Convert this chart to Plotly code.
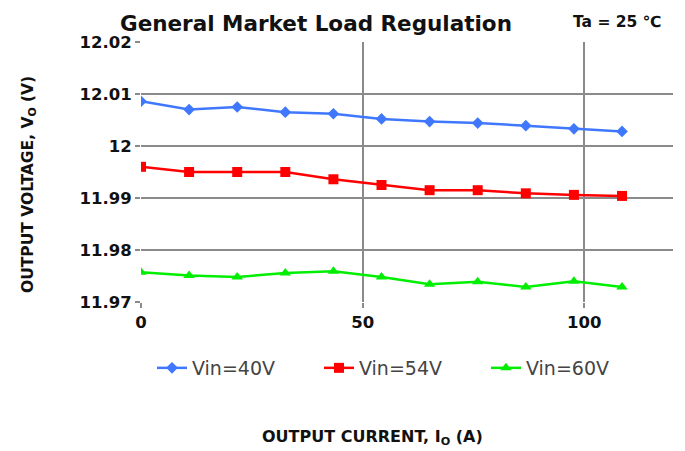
import plotly.graph_objects as go

current = [0, 10.85, 21.7, 32.55, 43.4, 54.25, 65.1, 75.95, 86.8, 97.65, 108.5]
vin40 = [12.0086, 12.0070, 12.0075, 12.0065, 12.0062, 12.0052, 12.0047, 12.0044, 12.0039, 12.0033, 12.0028]
vin54 = [11.9960, 11.9950, 11.9950, 11.9950, 11.9936, 11.9925, 11.9915, 11.9915, 11.9909, 11.9906, 11.9904]
vin60 = [11.9757, 11.9751, 11.9748, 11.9756, 11.9759, 11.9748, 11.9734, 11.9739, 11.9729, 11.9740, 11.9729]
y_ticks = [11.97, 11.98, 11.99, 12.0, 12.01, 12.02]
y_labels = ["11.97", "11.98", "11.99", "12", "12.01", "12.02"]
x_ticks = [0, 50, 100]

BOLD = "DejaVu Sans"
LEG = "DejaVu Sans"

fig = go.Figure()
fig.add_trace(go.Scatter(x=current, y=vin40, name="Vin=40V", mode="lines+markers",
                         line=dict(color="#3f78ff", width=2.5),
                         marker=dict(symbol="diamond", size=9, color="#3f78ff")))
fig.add_trace(go.Scatter(x=current, y=vin54, name="Vin=54V", mode="lines+markers",
                         line=dict(color="#ff0000", width=2.5),
                         marker=dict(symbol="square", size=10, color="#ff0000")))
fig.add_trace(go.Scatter(x=current, y=vin60, name="Vin=60V", mode="lines+markers",
                         line=dict(color="#00ee00", width=2.5),
                         marker=dict(symbol="triangle-up", size=10, color="#00ee00")))

axis_common = dict(showgrid=True, gridcolor="#8a8a8a", gridwidth=2,
                   zeroline=False, showline=False, ticks="outside",
                   ticklen=5, tickwidth=2, tickcolor="#8a8a8a",
                   tickfont=dict(family=BOLD, size=16.5, color="#111111", weight="bold"))

fig.update_xaxes(range=[0, 120], tickvals=x_ticks, **axis_common)
fig.update_yaxes(range=[11.97, 12.02], tickvals=y_ticks, ticktext=y_labels, **axis_common)

# page has an 8px body margin; plot area in page pixels:
pl, pr, pt, pb = 141, 673, 42, 302
W, H = 685 - 8, 451 - 8


def px(x): return (x - pl) / (pr - pl)
def py(y): return (pb - y) / (pb - pt)


fig.update_layout(
    width=W, height=H,
    margin=dict(l=pl - 8, r=W - (pr - 8), t=pt - 8, b=H - (pb - 8)),
    plot_bgcolor="white", paper_bgcolor="white",
    showlegend=True,
    legend=dict(orientation="h", x=px(152), xanchor="left",
                y=py(368), yanchor="middle",
                font=dict(family=LEG, size=19, color="#444444"),
                traceorder="normal", entrywidth=122, entrywidthmode="pixels"),
)

fig.add_annotation(text="General Market Load Regulation", x=px(316), y=py(23), xref="paper", yref="paper",
                   showarrow=False, xanchor="center", yanchor="middle",
                   font=dict(family=BOLD, size=21.5, color="#111111", weight="bold"))
fig.add_annotation(text="Ta = 25 ℃", x=px(617), y=py(21.5), xref="paper", yref="paper",
                   showarrow=False, xanchor="center", yanchor="middle",
                   font=dict(family=BOLD, size=15.5, color="#111111", weight="bold"))
fig.add_annotation(text="OUTPUT CURRENT, I<sub>O</sub> (A)", x=px(372), y=py(437), xref="paper", yref="paper",
                   showarrow=False, xanchor="center", yanchor="middle",
                   font=dict(family=BOLD, size=16, color="#111111", weight="bold"))
fig.add_annotation(text="OUTPUT VOLTAGE, V<sub>O</sub> (V)", x=px(29), y=py(185), xref="paper", yref="paper",
                   showarrow=False, xanchor="center", yanchor="middle", textangle=-90,
                   font=dict(family=BOLD, size=15.5, color="#111111", weight="bold"))

fig.write_html("out.html")
